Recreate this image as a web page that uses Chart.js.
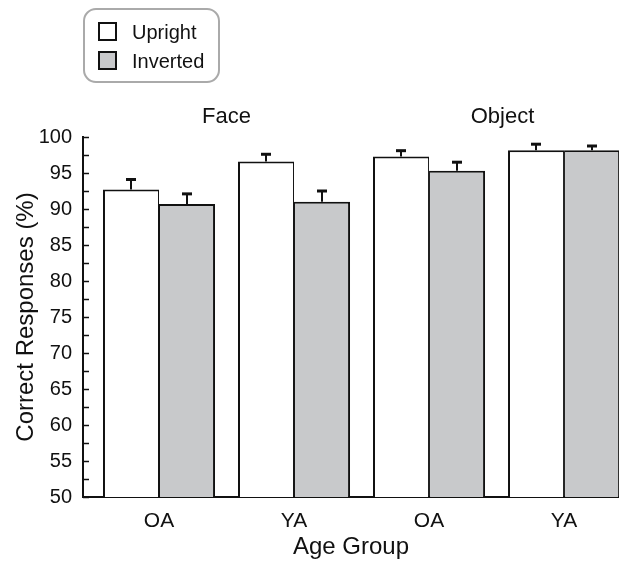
<!DOCTYPE html>
<html>
<head>
<meta charset="utf-8">
<script src="https://cdn.jsdelivr.net/npm/chart.js@4/dist/chart.umd.min.js"></script>
<style>
  html, body { margin: 0; padding: 0; background: #ffffff; overflow: hidden; }
  #wrap { position: relative; width: 619px; height: 562px; }
</style>
</head>
<body>
<div id="wrap"><canvas id="c" width="619" height="562"></canvas></div>
<script>
// ---- data ----
const categories = ['OA', 'YA', 'OA', 'YA'];
const groups = ['Face', 'Object'];
const seriesNames = ['Upright', 'Inverted'];
const uprightValues = [92.7, 96.6, 97.3, 98.15];
const uprightErrors = [1.4, 1.0, 0.8, 0.85];
const invertedValues = [90.7, 91.0, 95.3, 98.15];
const invertedErrors = [1.4, 1.5, 1.2, 0.6];
const yTickValues = [50, 55, 60, 65, 70, 75, 80, 85, 90, 95, 100];

const FONT = '"Liberation Sans", Arial, Helvetica, sans-serif';
const INK = '#111111';
const GRAY = '#c8c9cb';

const errorSets = [uprightErrors, invertedErrors];

const errorBarPlugin = {
  id: 'errorBars',
  afterDatasetsDraw(chart) {
    const ctx = chart.ctx;
    const y = chart.scales.y;
    ctx.save();
    ctx.strokeStyle = INK;
    chart.data.datasets.forEach((ds, di) => {
      const meta = chart.getDatasetMeta(di);
      meta.data.forEach((bar, i) => {
        const v = ds.data[i].y;
        const e = errorSets[di][i];
        const x = Math.round(bar.x);
        const y0 = y.getPixelForValue(v);
        const y1 = y.getPixelForValue(v + e);
        ctx.lineWidth = 2;
        ctx.beginPath();
        ctx.moveTo(x, y0);
        ctx.lineTo(x, y1);
        ctx.stroke();
        ctx.lineWidth = 3;
        ctx.beginPath();
        ctx.moveTo(x - 5, y1);
        ctx.lineTo(x + 5, y1);
        ctx.stroke();
      });
    });
    ctx.restore();
  }
};

const decorPlugin = {
  id: 'decor',
  afterDraw(chart) {
    const ctx = chart.ctx;
    const x = chart.scales.x;
    const y = chart.scales.y;
    const area = chart.chartArea;
    ctx.save();
    // inward y ticks
    ctx.strokeStyle = INK;
    ctx.lineWidth = 1.5;
    y.ticks.forEach(t => {
      const py = Math.round(y.getPixelForValue(t.value)) + 0.5;
      ctx.beginPath();
      ctx.moveTo(area.left, py);
      ctx.lineTo(area.left + 6, py);
      ctx.stroke();
    });
    // group titles
    ctx.fillStyle = INK;
    ctx.font = '22px ' + FONT;
    ctx.textAlign = 'center';
    ctx.textBaseline = 'alphabetic';
    groups.forEach((g, gi) => {
      const cx = (x.getPixelForValue(gi * 2) + x.getPixelForValue(gi * 2 + 1)) / 2;
      ctx.fillText(g, cx + (gi === 1 ? 6 : 0), 123);
    });
    // legend
    const lx = 84, ly = 9, lw = 135, lh = 73, r = 12;
    ctx.strokeStyle = '#aaaaaa';
    ctx.lineWidth = 2;
    ctx.beginPath();
    ctx.moveTo(lx + r, ly);
    ctx.arcTo(lx + lw, ly, lx + lw, ly + lh, r);
    ctx.arcTo(lx + lw, ly + lh, lx, ly + lh, r);
    ctx.arcTo(lx, ly + lh, lx, ly, r);
    ctx.arcTo(lx, ly, lx + lw, ly, r);
    ctx.closePath();
    ctx.stroke();
    ctx.font = '20px ' + FONT;
    ctx.textAlign = 'left';
    chart.data.datasets.forEach((ds, i) => {
      const sy = 23 + i * 29;
      ctx.fillStyle = ds.backgroundColor;
      ctx.fillRect(99, sy, 17, 17);
      ctx.strokeStyle = INK;
      ctx.lineWidth = 2;
      ctx.strokeRect(99, sy, 17, 17);
      ctx.fillStyle = INK;
      ctx.fillText(ds.label, 132, sy + 16);
    });
    ctx.restore();
  }
};

const toPoints = vals => vals.map((v, i) => ({ x: i, y: v }));

new Chart(document.getElementById('c'), {
  type: 'bar',
  data: {
    datasets: [
      {
        label: seriesNames[0],
        data: toPoints(uprightValues),
        backgroundColor: '#ffffff',
        borderColor: INK,
        borderWidth: { top: 2, left: 2, right: 1, bottom: 0 },
        borderSkipped: false,
        categoryPercentage: 0.83,
        barPercentage: 1.0
      },
      {
        label: seriesNames[1],
        data: toPoints(invertedValues),
        backgroundColor: GRAY,
        borderColor: INK,
        borderWidth: { top: 2, left: 1, right: 2, bottom: 0 },
        borderSkipped: false,
        categoryPercentage: 0.83,
        barPercentage: 1.0
      }
    ]
  },
  options: {
    responsive: false,
    animation: false,
    devicePixelRatio: 1,
    layout: { padding: { top: 137, right: 0, bottom: 0, left: 0 } },
    plugins: { legend: { display: false }, tooltip: { enabled: false }, title: { display: false } },
    scales: {
      x: {
        type: 'linear',
        offset: false,
        min: -0.563,
        max: 3.407,
        afterBuildTicks(scale) { scale.ticks = categories.map((c, i) => ({ value: i })); },
        afterFit(scale) { scale.height = 65; },
        grid: { display: false, drawTicks: false },
        border: { display: true, color: INK, width: 2 },
        ticks: {
          autoSkip: false,
          maxRotation: 0,
          padding: 12,
          color: INK,
          font: { family: FONT, size: 21 },
          callback: (v) => categories[v] ?? ''
        },
        title: {
          display: true,
          text: 'Age Group',
          color: INK,
          font: { family: FONT, size: 24 },
          padding: { top: 0, bottom: 0 }
        }
      },
      y: {
        min: 50,
        max: 100,
        afterFit(scale) { scale.width = 83; },
        grid: { display: false, drawTicks: false },
        border: { display: true, color: INK, width: 2 },
        ticks: {
          stepSize: 2.5,
          autoSkip: false,
          padding: 11,
          color: INK,
          font: { family: FONT, size: 20 },
          callback: (v) => yTickValues.includes(v) ? String(v) : ''
        },
        title: {
          display: true,
          text: 'Correct Responses (%)',
          color: INK,
          font: { family: FONT, size: 24 },
          padding: { top: 12, bottom: 0 }
        }
      }
    }
  },
  plugins: [errorBarPlugin, decorPlugin]
});
</script>
</body>
</html>
